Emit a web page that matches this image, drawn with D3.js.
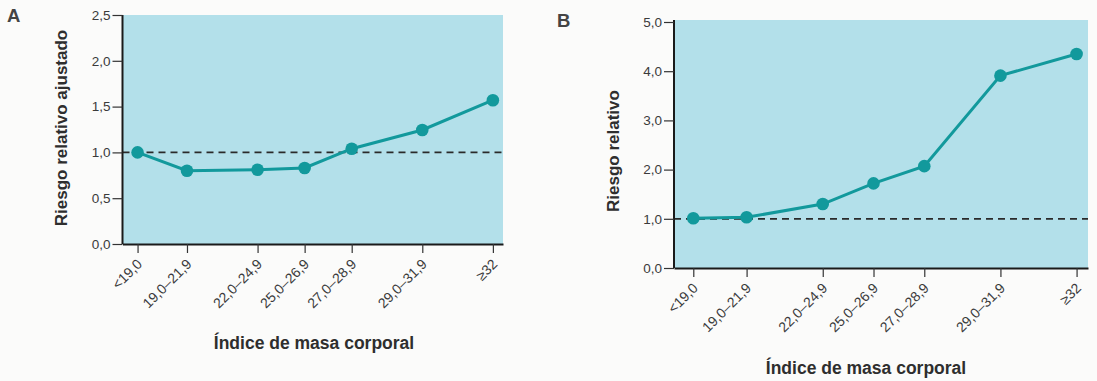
<!DOCTYPE html>
<html>
<head>
<meta charset="utf-8">
<script src="https://cdn.jsdelivr.net/npm/d3@7"></script>
<style>
  body { margin: 0; background: #fbfbfa; }
  svg { display: block; font-family: "Liberation Sans", Arial, sans-serif; }
</style>
</head>
<body>
<div id="chart"></div>
<script>
var width = 1097, height = 381;

// categorias de IMC y su posicion sobre el eje (escala de IMC)
var categorias = ["<19,0", "19,0\u201321,9", "22,0\u201324,9", "25,0\u201326,9", "27,0\u201328,9", "29,0\u201331,9", "\u226532"];
var imcPos = [19.8, 21.9, 24.9, 26.9, 28.9, 31.9, 34.9];

// panel A: riesgo relativo ajustado
var riesgoA = [1.0, 0.80, 0.81, 0.83, 1.04, 1.245, 1.57];
var ticksA = [0, 0.5, 1.0, 1.5, 2.0, 2.5];

// panel B: riesgo relativo
var riesgoB = [1.01, 1.03, 1.30, 1.72, 2.07, 3.91, 4.35];
var ticksB = [0, 1, 2, 3, 4, 5];

var fmt = function(d) { return d3.format(".1f")(d).replace(".", ","); };

var svg = d3.select("#chart")
    .append("svg")
    .attr("width", width)
    .attr("height", height);

function panel(o) {
  var x = d3.scaleLinear().domain(o.xDomain).range([o.left, o.right]);
  var y = d3.scaleLinear().domain([0, o.yMax]).range([o.bottom, o.yTop]);
  var g = svg.append("g");

  g.append("rect")
      .attr("x", o.left)
      .attr("y", o.top)
      .attr("width", o.right - o.left)
      .attr("height", o.bottom - o.top)
      .attr("fill", "#b3e0ea");

  // linea de referencia en 1,0
  g.append("line")
      .attr("x1", o.left)
      .attr("x2", o.right)
      .attr("y1", y(1))
      .attr("y2", y(1))
      .attr("stroke", "#2a2a2a")
      .attr("stroke-width", 1.7)
      .attr("stroke-dasharray", "7,5");

  var yAxis = g.append("g")
      .attr("transform", "translate(" + o.left + ",0)")
      .call(d3.axisLeft(y).tickValues(o.ticks).tickFormat(fmt).tickSize(10).tickSizeOuter(0).tickPadding(2));
  yAxis.select(".domain")
      .attr("d", "M0," + o.bottom + "V" + o.top)
      .attr("stroke", "#1a1a1a").attr("stroke-width", 2);
  yAxis.selectAll(".tick line").attr("stroke", "#333").attr("stroke-width", 1.2);
  yAxis.selectAll(".tick text")
      .attr("fill", "#3a3a3a")
      .attr("font-size", 13.5);

  var xAxis = g.append("g")
      .attr("transform", "translate(0," + o.bottom + ")")
      .call(d3.axisBottom(x).tickValues(imcPos).tickFormat(function(d, i) { return categorias[i]; }).tickSize(9).tickSizeOuter(0));
  xAxis.select(".domain").attr("stroke", "#1a1a1a").attr("stroke-width", 2);
  xAxis.selectAll(".tick line").attr("stroke", "#333").attr("stroke-width", 1.2);
  xAxis.selectAll(".tick text")
      .attr("fill", "#3a3a3a")
      .attr("font-size", 14)
      .attr("text-anchor", "end")
      .attr("dy", null)
      .attr("y", 0)
      .attr("transform", "translate(5,21) rotate(-45)");

  var line = d3.line()
      .x(function(d, i) { return x(imcPos[i]); })
      .y(function(d) { return y(d); });

  g.append("path")
      .datum(o.values)
      .attr("d", line)
      .attr("fill", "none")
      .attr("stroke", "#12999c")
      .attr("stroke-width", 3);

  g.selectAll("circle.pt")
    .data(o.values)
    .enter().append("circle")
      .attr("class", "pt")
      .attr("cx", function(d, i) { return x(imcPos[i]); })
      .attr("cy", function(d) { return y(d); })
      .attr("r", 6.3)
      .attr("fill", "#12999c");

  g.append("text")
      .attr("transform", "translate(" + o.yTitleX + "," + o.yTitleY + ") rotate(-90)")
      .attr("text-anchor", "middle")
      .attr("font-size", 17)
      .attr("font-weight", "bold")
      .attr("fill", "#2e2e2e")
      .text(o.yTitle);

  g.append("text")
      .attr("x", o.xTitleX)
      .attr("y", o.xTitleY)
      .attr("text-anchor", "middle")
      .attr("font-size", 17.5)
      .attr("font-weight", "bold")
      .attr("fill", "#2e2e2e")
      .text("\u00cdndice de masa corporal");

  g.append("text")
      .attr("x", o.letterX)
      .attr("y", o.letterY)
      .attr("font-size", 18.5)
      .attr("font-weight", "bold")
      .attr("fill", "#444")
      .text(o.letter);
}

panel({
  letter: "A", letterX: 7, letterY: 22,
  left: 122.5, right: 503, top: 15, yTop: 15, bottom: 244,
  xDomain: [19.16, 35.33], yMax: 2.5, ticks: ticksA, values: riesgoA,
  yTitle: "Riesgo relativo ajustado", yTitleX: 67, yTitleY: 128,
  xTitleX: 314, xTitleY: 349
});

panel({
  letter: "B", letterX: 557, letterY: 27,
  left: 674, right: 1088, top: 20, yTop: 22, bottom: 268,
  xDomain: [19.04, 35.35], yMax: 5, ticks: ticksB, values: riesgoB,
  yTitle: "Riesgo relativo", yTitleX: 619, yTitleY: 151,
  xTitleX: 866, xTitleY: 374
});
</script>
</body>
</html>
